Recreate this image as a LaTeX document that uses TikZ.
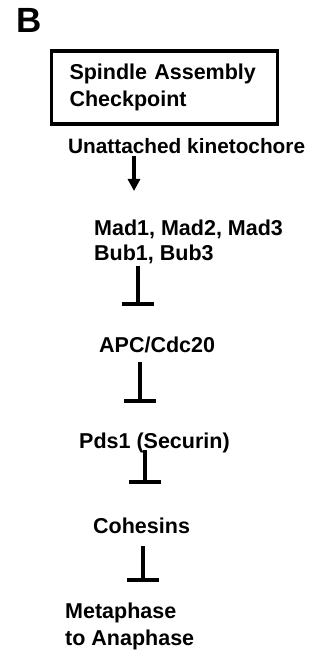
\documentclass[tikz,border=0pt]{standalone}
\usepackage{fontspec}
\setmainfont{Liberation Sans}
\usetikzlibrary{arrows.meta}
\begin{document}
\begin{tikzpicture}[x=1pt,y=-1pt,
  lbl/.style={anchor=base west,inner sep=0pt,font=\fontsize{21.5}{26}\selectfont\bfseries},
  boxed/.style={draw,line width=3.6pt,minimum width=226pt,minimum height=73pt,text width=190pt,align=left,inner xsep=18pt,inner ysep=0pt,font=\fontsize{21.5}{26.5}\selectfont\bfseries},
  act/.style={line width=3.2pt,-{Triangle[width=12pt,length=12pt]}},
  inh/.style={line width=3.4pt,-{Bar[width=32pt,line width=3.6pt]}}]
\useasboundingbox (0,0) rectangle (320,660);
\node[anchor=base west,inner sep=0pt,font=\fontsize{35}{40}\selectfont\bfseries] (B) at (16,33) {B};
\node[boxed] (sac) at (164.5,87.5) {Spindle Assembly\\Checkpoint};
\node[lbl,font=\fontsize{20.8}{25}\selectfont\bfseries] (uk) at (68,154) {Unattached kinetochore};
\node[lbl] (mad) at (94,235) {Mad1, Mad2, Mad3};
\node[lbl] (bub) at (94,260) {Bub1, Bub3};
\node[lbl] (apc) at (99,352) {APC/Cdc20};
\node[lbl] (pds) at (79,448) {Pds1 (Securin)};
\node[lbl] (coh) at (93,533) {Cohesins};
\node[lbl] (met) at (65,618) {Metaphase};
\node[lbl] (ana) at (65,645) {to Anaphase};
\coordinate (a0) at (134,156);
\coordinate (a1) at (134,191);
\coordinate (t1a) at (138,266);
\coordinate (t1b) at (138,306);
\coordinate (t2a) at (140,362);
\coordinate (t2b) at (140,403);
\coordinate (t3a) at (145,450);
\coordinate (t3b) at (145,484);
\coordinate (t4a) at (143,546);
\coordinate (t4b) at (143,582);
\draw[act] (a0) -- (a1);
\draw[inh] (t1a) -- (t1b);
\draw[inh] (t2a) -- (t2b);
\draw[inh] (t3a) -- (t3b);
\draw[inh] (t4a) -- (t4b);
\end{tikzpicture}
\end{document}
